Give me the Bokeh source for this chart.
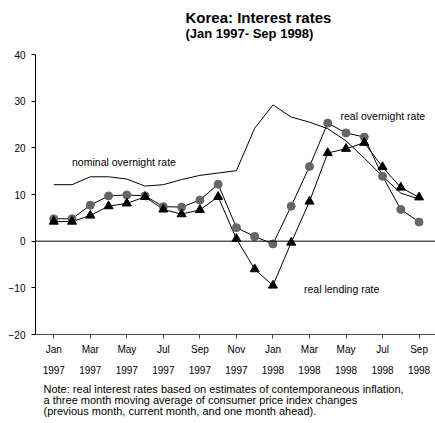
from bokeh.plotting import figure
from bokeh.models import Range1d, LinearAxis, FixedTicker, Label, Span, Title
from bokeh.embed import file_html
from bokeh.resources import INLINE

# Months Jan 1997 (0) .. Sep 1998 (20)
months = list(range(21))
nominal_overnight = [12.1, 12.1, 13.8, 13.8, 13.3, 11.8, 12.1, 13.2, 14.1, 14.6, 15.1,
                     24.2, 29.2, 26.6, 25.5, 24.1, 21.5, 17.8, 13.9, 10.3, 9.0]
real_overnight = [4.8, 4.8, 7.7, 9.7, 9.9, 9.7, 7.4, 7.3, 8.8, 12.2, 2.9,
                  1.0, -0.6, 7.5, 16.0, 25.3, 23.2, 22.3, 13.9, 6.8, 4.1]
real_lending = [4.2, 4.2, 5.5, 7.5, 8.1, 9.5, 6.8, 5.8, 6.7, 9.5, 0.5,
                -6.0, -9.5, -0.3, 8.5, 18.9, 19.8, 21.1, 15.9, 11.5, 9.4]

tick_pos = [0, 2, 4, 6, 8, 10, 12, 14, 16, 18, 20]
tick_months = ["Jan", "Mar", "May", "Jul", "Sep", "Nov", "Jan", "Mar", "May", "Jul", "Sep"]
tick_years = ["1997", "1997", "1997", "1997", "1997", "1997", "1998", "1998", "1998", "1998", "1998"]
y_ticks = [-20, -10, 0, 10, 20, 30, 40]

title_lines = ["Korea: Interest rates", "(Jan 1997- Sep 1998)"]
note_lines = ["Note: real interest rates based on estimates of contemporaneous inflation,",
              "a three month moving average of consumer price index changes",
              "(previous month, current month, and one month ahead)."]

FONT = "Liberation Sans"

p = figure(width=435, height=423, output_backend="svg", toolbar_location=None,
           x_range=Range1d(-1, 20.9), y_range=Range1d(-20, 40),
           min_border_left=35, min_border_right=0, min_border_top=54, min_border_bottom=89)
p.outline_line_color = None
p.grid.visible = False
p.background_fill_color = "white"

# x axis (months)
xa = p.xaxis[0]
xa.ticker = FixedTicker(ticks=tick_pos)
xa.major_label_overrides = {t: m for t, m in zip(tick_pos, tick_months)}
xa.minor_tick_line_color = None
xa.major_tick_in = 0
xa.major_tick_out = 4
xa.axis_line_color = "#444444"
xa.major_tick_line_color = "#444444"
xa.major_label_text_font = FONT
xa.major_label_text_font_size = "10px"
xa.major_label_text_color = "black"
xa.major_label_standoff = 5

# year row
ya2 = LinearAxis(ticker=FixedTicker(ticks=tick_pos),
                 major_label_overrides={t: y for t, y in zip(tick_pos, tick_years)})
ya2.axis_line_color = None
ya2.major_tick_line_color = None
ya2.minor_tick_line_color = None
ya2.major_label_text_font = FONT
ya2.major_label_text_font_size = "10px"
ya2.major_label_text_color = "black"
ya2.major_label_standoff = 2
p.add_layout(ya2, "below")

# notes below (one multi-line title)
p.add_layout(Title(text="\n".join(note_lines), align="left", offset=8, standoff=10,
                   text_font=FONT, text_font_size="11px", text_font_style="normal",
                   text_line_height=0.92, text_color="black"), "below")

# titles above (nearest to frame first); trailing blank line leaves room above the frame
p.add_layout(Title(text=title_lines[1] + "\n", align="left", offset=150, standoff=-2,
                   text_font=FONT, text_font_size="13px", text_font_style="bold",
                   text_color="black"), "above")
p.add_layout(Title(text=title_lines[0], align="left", offset=150, standoff=-3,
                   text_font=FONT, text_font_size="15px", text_font_style="bold",
                   text_color="black"), "above")

# y axis
ya = p.yaxis[0]
ya.ticker = FixedTicker(ticks=y_ticks)
ya.minor_tick_line_color = None
ya.major_tick_in = 0
ya.major_tick_out = 4
ya.axis_line_color = "black"
ya.major_tick_line_color = "black"
ya.major_label_text_font = FONT
ya.major_label_text_font_size = "10px"
ya.major_label_text_color = "black"
ya.major_label_standoff = 6

p.add_layout(Span(location=0, dimension="width", line_color="black", line_width=1))

p.line(months, nominal_overnight, line_color="black", line_width=1)
p.line(months, real_overnight, line_color="black", line_width=1)
p.line(months, real_lending, line_color="black", line_width=1)
p.scatter(months, real_overnight, marker="circle", size=8, fill_color="#666666", line_color="#666666")
p.scatter(months, real_lending, marker="triangle", size=9, fill_color="black", line_color="black")

def lab(x, y, text):
    p.add_layout(Label(x=x, y=y, text=text, text_font=FONT, text_font_size="10.5px",
                       text_baseline="middle", text_align="left", text_color="black"))

lab(1.0, 16.9, "nominal overnight rate")
lab(15.7, 26.8, "real overnight rate")
lab(13.7, -10.3, "real lending rate")

open("out.html", "w").write(file_html(p, INLINE))
